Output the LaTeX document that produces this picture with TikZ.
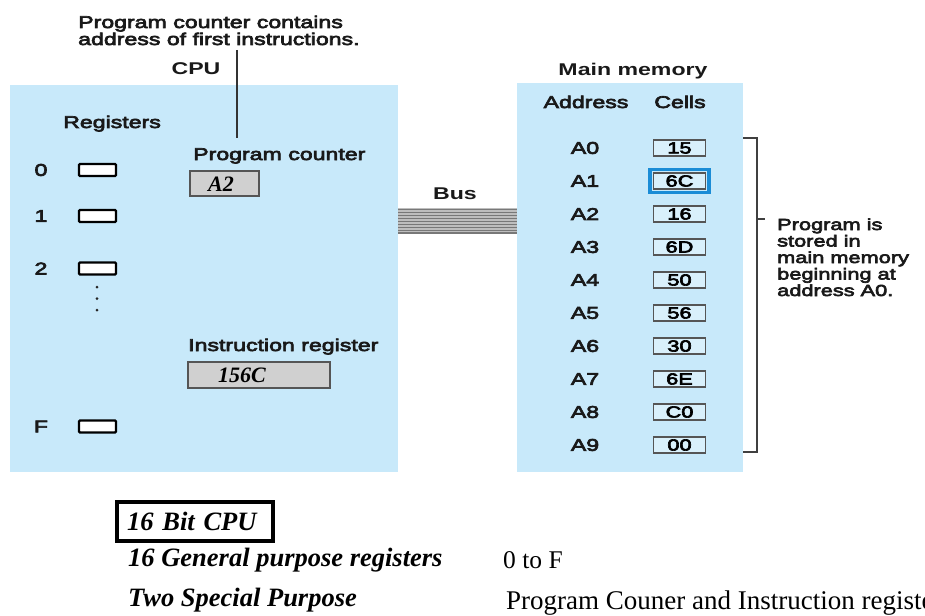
\documentclass[tikz,border=0pt]{standalone}
\usepackage{fontspec}
\newfontfamily\hv[FakeStretch=1.36,FakeBold=4]{Liberation Sans}
\newfontfamily\hvb[FakeStretch=1.36]{Liberation Sans Bold}
\newfontfamily\tms{Liberation Serif}
\definecolor{panelblue}{RGB}{200,233,250}
\definecolor{boxgray}{RGB}{208,208,208}
\definecolor{edgegray}{RGB}{85,85,85}
\definecolor{hiblue}{RGB}{26,140,214}
\definecolor{busdark}{RGB}{120,120,120}
\definecolor{buslight}{RGB}{190,190,190}
\tikzset{
  lbl/.style={font=\hv\fontsize{17}{17}\selectfont, inner sep=0pt, text=black!90},
  lblb/.style={font=\hvb\fontsize{17}{17}\selectfont, inner sep=0pt, text=black!90},
  note/.style={font=\hv\fontsize{16}{16}\selectfont, inner sep=0pt, text=black!90},
  panel/.style={fill=panelblue, draw=none, inner sep=0pt},
  regbox/.style={draw=black, fill=white, line width=2.3pt, rounded corners=1pt, minimum width=37pt, minimum height=12pt, inner sep=0pt},
  valbox/.style={draw=edgegray, fill=boxgray, line width=1.2pt, inner sep=0pt},
  valtext/.style={font=\tms\bfseries\itshape\fontsize{22}{22}\selectfont, inner sep=0pt},
  cellbox/.style={draw=edgegray, fill=panelblue!70!white, line width=1.2pt, minimum width=52pt, minimum height=16pt, inner sep=0pt,
    font=\hv\fontsize{16}{16}\selectfont},
  bottomb/.style={font=\tms\bfseries\itshape\fontsize{26.5}{26.5}\selectfont, inner sep=0pt},
  bottomr/.style={font=\tms\fontsize{25.5}{25.5}\selectfont, inner sep=0pt},
}
\begin{document}
\begin{tikzpicture}[x=1pt, y=-1pt]
\useasboundingbox (0,0) rectangle (925,615);
\clip (0,0) rectangle (925,615);

% panels
\node[panel, minimum width=388pt, minimum height=387pt] (cpu) at (204,278.5) {};
\node[panel, minimum width=226pt, minimum height=389pt] (mem) at (630,277.5) {};

% caption and leader
\node[lbl, anchor=base west] (cap1) at (78,28) {Program counter contains};
\node[lbl, anchor=base west] (cap2) at (78,45) {address of first instructions.};
\coordinate (leadtop) at (237,50);
\coordinate (leadbot) at (237,138);
\draw[line width=1.5pt, black!80] (leadtop) -- (leadbot);

\node[lblb, anchor=base] (cputitle) at (196,75) {CPU};
\node[lbl, anchor=base west] (regtitle) at (63,128) {Registers};

% general purpose registers
\foreach \n/\y in {0/170, 1/216, 2/268.5, F/426.5} {
  \node[lbl] (rn\n) at (41,\y) {\n};
  \node[regbox] (rb\n) at (97.5,\y) {};
}
\foreach \y [count=\k] in {287,298.5,310} {
  \node[circle, fill=black!85, inner sep=0pt, minimum size=3pt] (dot\k) at (97,\y) {};
}

% special purpose registers
\node[lbl, anchor=base west] (pctitle) at (193,160) {Program counter};
\node[valbox, minimum width=69pt, minimum height=25pt] (pc) at (224.5,183.5) {};
\node[valtext] (pcval) at (221,184) {A2};
\node[lbl, anchor=base west] (irtitle) at (188,351) {Instruction register};
\node[valbox, minimum width=142pt, minimum height=26pt] (ir) at (259,375) {};
\node[valtext] (irval) at (242,375.5) {156C};

% bus
\node[lblb, anchor=base] (bustitle) at (455,199) {Bus};
\fill[buslight] (cpu.east |- 0,208) rectangle (mem.west |- 0,234);
\foreach \y [count=\k] in {209.5,212.5,215.5,218.5,221.5,224.5,227.5,230.5,233} {
  \coordinate (bw\k) at (0,\y);
  \draw[busdark, line width=1.5pt] (cpu.east |- bw\k) -- (mem.west |- bw\k);
}

% main memory
\node[lblb, anchor=base] (memtitle) at (633,76) {Main memory};
\node[lbl, anchor=base] (addrtitle) at (586,108) {Address};
\node[lbl, anchor=base] (celltitle) at (680,108) {Cells};
\foreach \a/\v [count=\i from 0] in {A0/15, A1/6C, A2/16, A3/6D, A4/50, A5/56, A6/30, A7/6E, A8/C0, A9/00} {
  \node[lbl] (addr\a) at (585,148+33*\i) {\a};
  \node[cellbox] (cell\a) at (679.5,148+33*\i) {\v};
}
\node[draw=hiblue, line width=3.5pt, minimum width=59pt, minimum height=23pt, inner sep=0pt] (hilite) at (679.5,181) {};

% bracket and note
\coordinate (brtop) at (743,138);
\coordinate (brtopr) at (757,138);
\coordinate (brbotr) at (757,452);
\coordinate (brbot) at (743,452);
\coordinate (brmid) at (757,219);
\coordinate (brtick) at (765,219);
\draw[line width=1.4pt, black!75] (brtop) -- (brtopr) -- (brbotr) -- (brbot);
\draw[line width=1.2pt, black!75] (brmid) -- (brtick);
\node[note, anchor=base west] (n1) at (777,230) {Program is};
\node[note, anchor=base west] (n2) at (777,246.5) {stored in};
\node[note, anchor=base west] (n3) at (777,263) {main memory};
\node[note, anchor=base west] (n4) at (777,279.5) {beginning at};
\node[note, anchor=base west] (n5) at (777,296) {address A0.};

% summary text
\node[bottomb, draw=black, line width=4pt, minimum width=156pt, minimum height=39pt,
      text width=136pt, inner sep=10pt, align=left] (bitcpu) at (195,521.5) {16 Bit CPU};
\node[bottomb, anchor=base west] (gp) at (128,566) {16 General purpose registers};
\node[bottomr, anchor=base west] (gpv) at (503,568) {0 to F};
\node[bottomb, anchor=base west] (sp) at (128,606) {Two Special Purpose};
\node[bottomr, font=\tms\fontsize{27}{27}\selectfont, anchor=base west] (spv) at (506,609) {Program Couner and Instruction register};
\end{tikzpicture}
\end{document}
